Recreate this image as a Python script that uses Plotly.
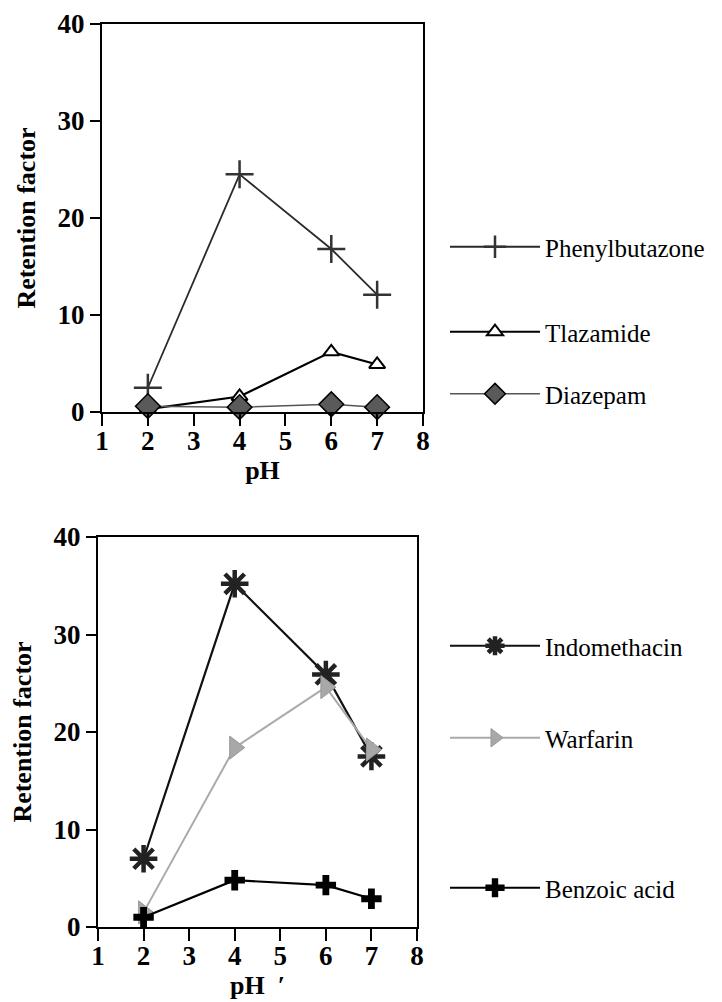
import plotly.graph_objects as go

ph = [2, 4, 6, 7]

# Top panel
phenylbutazone = [2.5, 24.5, 16.8, 12.1]
tlazamide = [0.3, 1.6, 6.2, 4.9]
diazepam = [0.6, 0.5, 0.8, 0.5]

# Bottom panel
indomethacin = [7.0, 35.2, 25.9, 17.5]
warfarin = [1.5, 18.4, 24.6, 18.2]
benzoic_acid = [1.0, 4.8, 4.3, 2.9]

x_ticks = [1, 2, 3, 4, 5, 6, 7, 8]
y_ticks = [0, 10, 20, 30, 40]

W, H = 722, 1002
SERIF = "Liberation Serif, Times New Roman, serif"

fig = go.Figure()

def add(name, y, xa, ya, lg, line, marker):
    fig.add_trace(go.Scatter(
        x=ph, y=y, name=name, mode="lines+markers", xaxis=xa, yaxis=ya,
        legend=lg, line=line, marker=marker, cliponaxis=False, showlegend=True))

add("Phenylbutazone", phenylbutazone, "x", "y", "legend",
    dict(color="#2a2a2a", width=1.8),
    dict(symbol="cross-thin", size=20, line=dict(color="#333333", width=2.5)))
add("Tlazamide", tlazamide, "x", "y", "legend2",
    dict(color="black", width=2.2),
    dict(symbol="triangle-up", size=14, color="white", line=dict(color="black", width=2)))
add("Diazepam", diazepam, "x", "y", "legend3",
    dict(color="#555555", width=1.5),
    dict(symbol="diamond", size=19, color="#5a5a5a", line=dict(color="black", width=1.5)))

add("Indomethacin", indomethacin, "x2", "y2", "legend4",
    dict(color="#111111", width=2.2),
    dict(symbol="asterisk", size=23, color="#666666", line=dict(color="#222222", width=4.5)))
add("Warfarin", warfarin, "x2", "y2", "legend5",
    dict(color="#aaaaaa", width=2),
    dict(symbol="triangle-right", size=20, color="#a8a8a8", line=dict(color="#999999", width=1)))
add("Benzoic acid", benzoic_acid, "x2", "y2", "legend6",
    dict(color="black", width=2.2),
    dict(symbol="cross", size=17, color="black", line=dict(color="black", width=0)))

tickfont = dict(family=SERIF, size=27, color="black", weight="bold")
titlefont = dict(family=SERIF, size=26, color="black", weight="bold")

def xaxis(domain, anchor, title):
    return dict(domain=domain, anchor=anchor, range=[1, 8], tickvals=x_ticks,
                ticks="outside", ticklen=12, tickwidth=2, tickcolor="black",
                showline=True, linecolor="black", linewidth=2, mirror=True,
                showgrid=False, zeroline=False, tickfont=tickfont, automargin=False,
                ticklabelstandoff=-8,
                title=dict(text=title, font=titlefont, standoff=4))

def yaxis(domain, anchor):
    return dict(domain=domain, anchor=anchor, range=[0, 40], tickvals=y_ticks,
                ticks="outside", ticklen=10, tickwidth=2, tickcolor="black",
                showline=True, linecolor="black", linewidth=2, mirror=True,
                showgrid=False, zeroline=False, tickfont=tickfont, automargin=False,
                title=dict(text="Retention factor", font=titlefont, standoff=14))

def legend(ycenter_px):
    return dict(x=445 / W, y=1 - ycenter_px / H, xanchor="left", yanchor="middle",
                bgcolor="rgba(0,0,0,0)", borderwidth=0, itemwidth=90,
                font=dict(family=SERIF, size=25, color="black"))

fig.update_layout(
    width=W, height=H, margin=dict(l=0, r=0, t=0, b=0, autoexpand=False),
    paper_bgcolor="white", plot_bgcolor="white", showlegend=True,
    xaxis=xaxis([102 / W, 423 / W], "y", "pH"),
    yaxis=yaxis([1 - 412 / H, 1 - 24 / H], "x"),
    xaxis2=xaxis([98 / W, 417 / W], "y2", "pH  \u02b9"),
    yaxis2=yaxis([1 - 927 / H, 1 - 537 / H], "x2"),
    legend=legend(247), legend2=legend(332), legend3=legend(394),
    legend4=legend(646), legend5=legend(738), legend6=legend(888),
)

fig.write_html("out.html")
